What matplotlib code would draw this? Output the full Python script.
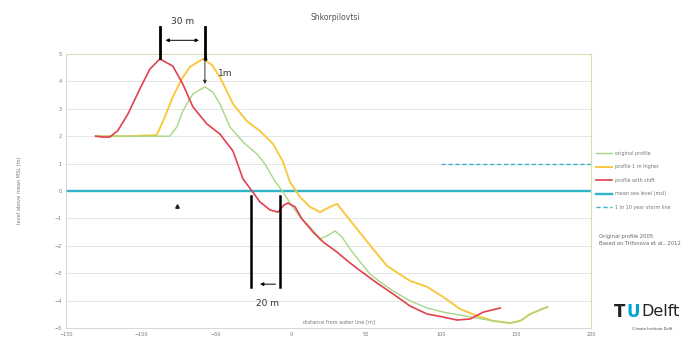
import matplotlib
matplotlib.use("Agg")
import matplotlib.pyplot as plt

# ---- data ----
red_x = [-130.2, -125.5, -120.8, -115.5, -108.8, -100.8, -94.1, -87.4, -78.8, -72.1, -65.4, -56.1,
         -47.4, -38.7, -32.0, -26.0, -20.7, -14.0, -8.7, -4.7, -2.0, 2.7, 7.3, 14.7, 21.4, 30.7,
         39.4, 47.4, 57.4, 68.1, 79.4, 90.8, 101.5, 110.8, 119.5, 128.2, 139.5]
red_y = [2.0, 1.97, 1.97, 2.2, 2.8, 3.72, 4.45, 4.82, 4.56, 3.9, 3.07, 2.45,
         2.08, 1.46, 0.44, 0.0, -0.4, -0.69, -0.77, -0.51, -0.44, -0.58, -1.02, -1.5, -1.86, -2.23,
         -2.63, -2.96, -3.36, -3.76, -4.2, -4.49, -4.6, -4.71, -4.67, -4.42, -4.27]

yel_x = [-130.2, -107.5, -89.5, -84.1, -78.8, -72.8, -67.4, -58.7, -52.7, -47.4, -38.7, -29.4,
         -20.7, -12.0, -5.3, -0.7, 6.0, 12.7, 19.4, 26.0, 30.7, 36.0, 44.1, 54.7, 64.1, 79.4,
         90.8, 101.5, 112.8, 124.2, 134.8, 146.2, 152.9, 159.5, 170.9]
yel_y = [2.0, 2.0, 2.04, 2.7, 3.43, 4.09, 4.53, 4.82, 4.6, 4.16, 3.18, 2.55,
         2.19, 1.72, 1.06, 0.33, -0.22, -0.58, -0.77, -0.58, -0.47, -0.84, -1.39, -2.12, -2.74, -3.28,
         -3.5, -3.87, -4.31, -4.56, -4.74, -4.82, -4.74, -4.49, -4.23]

grn_x = [-130.2, -80.8, -76.1, -72.1, -65.4, -57.4, -52.1, -47.4, -40.7, -32.0, -22.7, -17.4,
         -10.7, -5.3, 0.7, 6.0, 12.7, 19.4, 24.0, 29.4, 34.0, 39.4, 46.1, 52.7, 59.4, 68.1,
         79.4, 90.8, 101.5, 112.8, 124.2, 134.8, 146.2, 152.9, 159.5, 170.9]
grn_y = [2.0, 2.0, 2.34, 2.92, 3.54, 3.8, 3.61, 3.18, 2.34, 1.79, 1.35, 0.99,
         0.36, -0.04, -0.55, -0.95, -1.31, -1.75, -1.64, -1.46, -1.68, -2.12, -2.59, -3.03, -3.32, -3.65,
         -4.01, -4.27, -4.42, -4.53, -4.64, -4.74, -4.82, -4.74, -4.49, -4.23]

msl_level = 0.0
storm_level = 1.0
storm_x = [100, 200]

x_ticks = [-150, -100, -50, 0, 50, 100, 150, 200]
y_ticks = [-5, -4, -3, -2, -1, 0, 1, 2, 3, 4, 5]

labels = ["original profile", "profile 1 m higher", "profile with shift",
          "mean sea level (msl)", "1 in 10 year storm line"]

# annotation geometry (data units)
crest_marks_x = [-87.4, -57.4]
crest_marks_y = [4.85, 6.0]
shift_arrow = (-85.5, -59.5, 5.5)
height_arrow = (-57.4, 4.82, 3.8)
shore_marks_x = [-26.5, -7.3]
shore_marks_y = [-0.2, -3.5]
shore_arrow = (-8.5, -22.5, -3.4)
tri_pt = (-76, -0.55)

C_RED = "#e2404f"
C_YEL = "#f8c93e"
C_GRN = "#a6d785"
C_CYAN = "#2fb4cc"
C_TXT = "#777777"

fig = plt.figure(figsize=(7, 3.4), dpi=100)
ax = fig.add_axes([66/700, 1-328/340, (591-66)/700, (328-54)/340])

ax.set_xlim(-150, 200)
ax.set_ylim(-5, 5)
ax.set_xticks(x_ticks)
ax.set_yticks(y_ticks)
ax.tick_params(length=0, labelsize=3.5, labelcolor=C_TXT, pad=3)
for yv in y_ticks:
    ax.axhline(yv, color="#e0e0e0", lw=0.6, zorder=0)

for s in ["left", "bottom"]:
    ax.spines[s].set_color("#d0d0d0")
    ax.spines[s].set_linewidth(0.6)
for s in ["top", "right"]:
    ax.spines[s].set_color("#cfe4b4")
    ax.spines[s].set_linewidth(0.8)

l_g, = ax.plot(grn_x, grn_y, color=C_GRN, lw=1.0, zorder=3)
l_y, = ax.plot(yel_x, yel_y, color=C_YEL, lw=1.4, zorder=2)
l_r, = ax.plot(red_x, red_y, color=C_RED, lw=1.2, zorder=4)
l_m = ax.axhline(msl_level, color=C_CYAN, lw=1.7, zorder=1)
l_s, = ax.plot(storm_x, [storm_level, storm_level], color=C_CYAN, lw=1.0, ls=(0, (3, 2)), zorder=1)

# annotations
for xm in crest_marks_x:
    ax.plot([xm, xm], crest_marks_y, color="black", lw=2.0, clip_on=False, zorder=6)
ax.annotate("", xy=(shift_arrow[1], shift_arrow[2]), xytext=(shift_arrow[0], shift_arrow[2]),
            arrowprops=dict(arrowstyle="<|-|>", color="black", lw=0.7, mutation_scale=5),
            annotation_clip=False)
ax.text((crest_marks_x[0] + crest_marks_x[1]) / 2, 6.2, "30 m", ha="center", va="center",
        fontsize=6.5, color="#333333", clip_on=False)
ax.annotate("", xy=(height_arrow[0], height_arrow[2]), xytext=(height_arrow[0], height_arrow[1]),
            arrowprops=dict(arrowstyle="-|>", color="#333333", lw=0.7, mutation_scale=5))
ax.plot([height_arrow[0]], [height_arrow[1]], marker="o", ms=1.8, color="#333333")
ax.text(-49, 4.3, "1m", ha="left", va="center", fontsize=6.5, color="#333333")

for xm in shore_marks_x:
    ax.plot([xm, xm], shore_marks_y, color="black", lw=1.8, zorder=6)
ax.annotate("", xy=(shore_arrow[1], shore_arrow[2]), xytext=(shore_arrow[0], shore_arrow[2]),
            arrowprops=dict(arrowstyle="-|>", color="black", lw=0.7, mutation_scale=5))
ax.text(-16, -4.1, "20 m", ha="center", va="center", fontsize=6.5, color="#333333")
ax.plot([tri_pt[0]], [tri_pt[1]], marker="^", ms=2.5, color="#222222")

ax.text(32, -4.78, "distance from water line [m]", ha="center", va="center",
        fontsize=3.6, color=C_TXT)

fig.text(20/700, 1-190/340, "level above mean MSL (m)", rotation=90, ha="center", va="center",
         fontsize=3.6, color=C_TXT)
fig.text(335/700, 1-17/340, "Shkorpilovtsi", ha="center", va="center", fontsize=5.5, color="#555555")

leg = fig.legend([l_g, l_y, l_r, l_m, l_s], labels, loc="upper left",
                 bbox_to_anchor=(594/700, 1-149/340), frameon=False, fontsize=3.5,
                 handlelength=3.2, labelspacing=1.75, handletextpad=0.8, borderaxespad=0)
for t in leg.get_texts():
    t.set_color(C_TXT)

fig.text(599/700, 1-240/340, "Original profile 2005\nBased on Trifonova et al., 2012",
         ha="left", va="center", fontsize=3.8, color="#666666", linespacing=1.4)

# TU Delft wordmark
fig.text(614/700, 1-312/340, "T", ha="left", va="center", fontsize=12, color="#222222",
         fontweight="bold")
fig.text(627/700, 1-312/340, "U", ha="left", va="center", fontsize=12, color="#00a6d6",
         fontweight="bold")
fig.text(641/700, 1-312/340, "Delft", ha="left", va="center", fontsize=11.5, color="#222222")
fig.text(652/700, 1-329/340, "Climate Institute Delft", ha="center", va="center",
         fontsize=2.6, color="#444444")

fig.savefig("out.png", dpi=100)
